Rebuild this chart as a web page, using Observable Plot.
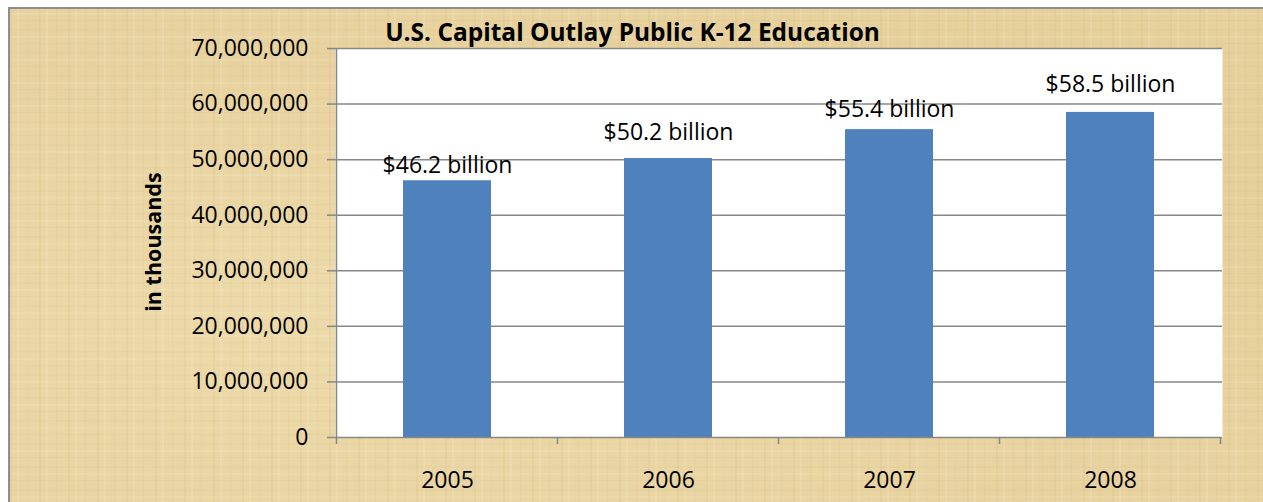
<!DOCTYPE html>
<html><head><meta charset="utf-8">
<script src="https://cdn.jsdelivr.net/npm/d3@7"></script>
<script src="https://cdn.jsdelivr.net/npm/@observablehq/plot@0.6"></script>
<style>
html,body{margin:0;padding:0;background:#fff;width:1263px;height:502px;overflow:hidden;}
#wrap{position:relative;width:1263px;height:502px;overflow:hidden;}
#bg{position:absolute;left:8px;top:7px;width:1300px;height:520px;box-sizing:border-box;
  border-top:2px solid #8e8e8e;border-left:2px solid #8e8e8e;
  background-color:#e8d3a0;
  background-image:
    repeating-linear-gradient(90deg, rgba(185,150,80,0.09) 0 2px, transparent 2px 7px, rgba(255,246,220,0.14) 7px 9px, transparent 9px 17px, rgba(190,160,95,0.07) 17px 18px, transparent 18px 29px),
    repeating-linear-gradient(0deg, rgba(185,150,80,0.07) 0 1px, transparent 1px 6px, rgba(255,246,220,0.12) 6px 8px, transparent 8px 13px, rgba(190,160,95,0.06) 13px 15px, transparent 15px 23px),
    radial-gradient(ellipse at 30% 60%, rgba(255,242,205,0.25), transparent 60%),
    radial-gradient(ellipse at 80% 30%, rgba(205,175,105,0.15), transparent 55%);
}
#chart{position:absolute;left:0;top:0;}
#title{position:absolute;left:0;width:1265px;text-align:center;top:20px;line-height:1;
  font-family:'Open Sans',sans-serif;font-weight:bold;font-size:23px;color:#000;white-space:nowrap;}
#title span, #ylab span{display:inline-block;}
#ylab{position:absolute;left:153px;top:242px;transform:translate(-50%,-50%) rotate(-90deg);
  font-family:'Open Sans',sans-serif;font-weight:bold;font-size:20px;line-height:1;color:#000;white-space:nowrap;}
</style></head>
<body>
<div id="wrap">
  <div id="bg"></div>
  <div id="chart"></div>
  <div id="title"><span>U.S. Capital Outlay Public K-12 Education</span></div>
  <div id="ylab"><span>in thousands</span></div>
</div>
<script>
const years = ["2005", "2006", "2007", "2008"];
const outlays = [46200000, 50200000, 55400000, 58500000];
const valueLabels = ["$46.2 billion", "$50.2 billion", "$55.4 billion", "$58.5 billion"];
const yTicks = [0, 10000000, 20000000, 30000000, 40000000, 50000000, 60000000, 70000000];

const rows = years.map((y, i) => ({year: y, value: outlays[i], label: valueLabels[i]}));
const GRAY = "#878787";
const FONT = "'Open Sans', sans-serif";
// pixel gap between each bar top and its hand-placed label (layout only)
const labelGap = [8, 19, 13, 20];

const plot = Plot.plot({
  width: 1263, height: 502,
  marginLeft: 335, marginRight: 41, marginTop: 48, marginBottom: 65,
  style: {background: "transparent", fontFamily: FONT, fontSize: "23px", color: "#000", overflow: "visible"},
  x: {domain: years, paddingInner: 0.6, paddingOuter: 0.3, label: null},
  y: {domain: [0, 70000000], label: null},
  marks: [
    Plot.frame({fill: "white", stroke: null}),
    Plot.ruleY(yTicks.slice(1), {stroke: GRAY, strokeWidth: 1.5}),
    Plot.barY(rows, {x: "year", y: "value", fill: "#4f81bd"}),
    Plot.ruleY([0], {stroke: GRAY, strokeWidth: 1.5}),
    Plot.axisY({ticks: yTicks, tickFormat: d3.format(","), tickSize: 8, tickPadding: 19,
      stroke: GRAY, strokeWidth: 1.5, fill: "black", fontSize: 23, label: null}),
    Plot.axisX({tickSize: 0, tickPadding: 34, fill: "black", fontSize: 23, label: null}),
    ...rows.map((r, i) => Plot.text([r], {x: "year", y: "value", text: "label", lineAnchor: "bottom",
      dy: -labelGap[i], fontSize: 23, fill: "black"}))
  ]
});
document.getElementById("chart").appendChild(plot);

// Category boundary ticks and the vertical axis line, placed with the plot's own scales
const xs = plot.scale("x"), ys = plot.scale("y");
const half = (xs.step - xs.bandwidth) / 2;
const bounds = years.map(y => xs.apply(y) - half);
bounds.push(xs.apply(years[years.length - 1]) + xs.bandwidth + half);
const y0 = ys.apply(0), yTop = ys.apply(yTicks[yTicks.length - 1]);
const g = d3.select(plot).append("g").attr("stroke", GRAY).attr("stroke-width", 1.5);
g.selectAll("line.b").data(bounds).join("line").attr("class", "b")
  .attr("x1", d => d).attr("x2", d => d).attr("y1", y0).attr("y2", y0 + 7);
g.append("line").attr("x1", bounds[0]).attr("x2", bounds[0]).attr("y1", yTop).attr("y2", y0 + 1);

// fit HTML texts to the reference widths
function fit(id, target) {
  const el = document.getElementById(id);
  const sp = el.querySelector("span");
  const fs = parseFloat(getComputedStyle(el).fontSize);
  const w = sp.offsetWidth;
  if (w > 0) el.style.fontSize = (fs * target / w) + "px";
}
fit("title", 495);
fit("ylab", 140);
</script>
</body></html>
